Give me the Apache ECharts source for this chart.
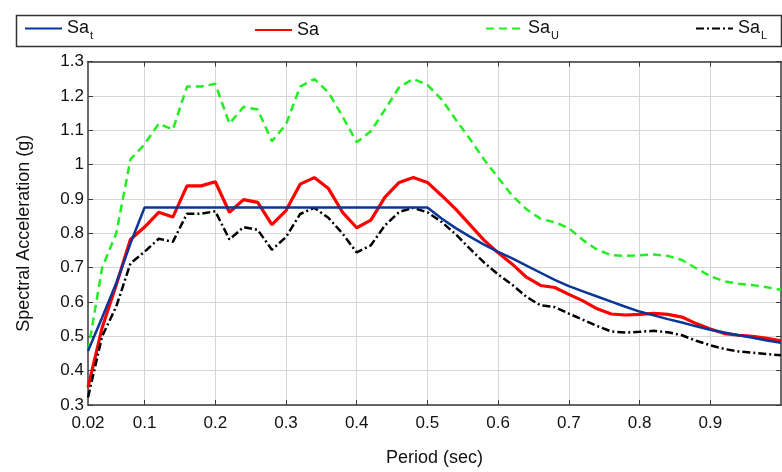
<!DOCTYPE html>
<html><head><meta charset="utf-8">
<script src="https://cdn.jsdelivr.net/npm/echarts@6/dist/echarts.min.js"></script>
<style>html,body{margin:0;padding:0;background:#fff}#c{width:782px;height:472px}</style>
</head><body><div id="c"></div>
<script>
// Periods (sec)
const periods = [0.02,0.04,0.06,0.08,0.10,0.12,0.14,0.16,0.18,0.20,
                 0.22,0.24,0.26,0.28,0.30,0.32,0.34,0.36,0.38,0.40,
                 0.42,0.44,0.46,0.48,0.50,0.52,0.54,0.56,0.58,0.60,
                 0.62,0.64,0.66,0.68,0.70,0.72,0.74,0.76,0.78,0.80,
                 0.82,0.84,0.86,0.88,0.90,0.92,0.94,0.96,0.98,1.00];
// Target spectrum Sa_t
const saTarget = [0.457,0.555,0.655,0.770,0.875,0.875,0.875,0.875,0.875,0.875,
                  0.875,0.875,0.875,0.875,0.875,0.875,0.875,0.875,0.875,0.875,
                  0.875,0.875,0.875,0.875,0.875,0.843,0.815,0.790,0.767,0.746,
                  0.727,0.706,0.685,0.664,0.646,0.631,0.616,0.601,0.586,0.572,
                  0.561,0.550,0.540,0.529,0.519,0.511,0.503,0.496,0.488,0.481];
// Mean spectrum Sa
const saMean = [0.351,0.525,0.650,0.782,0.818,0.861,0.847,0.938,0.938,0.950,
                0.861,0.898,0.890,0.825,0.866,0.943,0.962,0.930,0.861,0.816,
                0.838,0.905,0.948,0.962,0.948,0.910,0.870,0.825,0.780,0.743,
                0.710,0.672,0.648,0.642,0.622,0.603,0.580,0.565,0.562,0.564,
                0.567,0.564,0.556,0.537,0.521,0.508,0.503,0.500,0.494,0.487];
// Upper bound Sa_U
const saUpper = [0.457,0.700,0.800,1.015,1.059,1.119,1.102,1.227,1.227,1.235,
                 1.119,1.168,1.160,1.068,1.117,1.227,1.249,1.210,1.140,1.065,
                 1.097,1.160,1.225,1.249,1.232,1.190,1.131,1.075,1.015,0.962,
                 0.909,0.870,0.842,0.832,0.815,0.780,0.752,0.736,0.734,0.736,
                 0.738,0.734,0.722,0.698,0.675,0.660,0.653,0.649,0.643,0.635];
// Lower bound Sa_L
const saLower = [0.322,0.500,0.587,0.712,0.746,0.784,0.775,0.857,0.857,0.864,
                 0.782,0.818,0.810,0.752,0.789,0.856,0.874,0.845,0.799,0.744,
                 0.765,0.823,0.862,0.874,0.861,0.833,0.797,0.755,0.715,0.680,
                 0.650,0.615,0.590,0.585,0.566,0.548,0.530,0.514,0.511,0.513,
                 0.516,0.512,0.503,0.487,0.474,0.463,0.456,0.452,0.448,0.445];
// Axis ticks / labels
const xTickValues = [0.1,0.2,0.3,0.4,0.5,0.6,0.7,0.8,0.9];
const xLabelValues = [0.02,0.1,0.2,0.3,0.4,0.5,0.6,0.7,0.8,0.9];
const seriesNames = ['Sat','Sa','SaU','SaL'];
const legendLabels = ['{m|Sa}{s|t}','{m|Sa}','{m|Sa}{s|U}','{m|Sa}{s|L}'];

const FONT = 'Liberation Sans, Arial, sans-serif';
const pairs = vals => periods.map((t,i)=>[t, vals[i]]);

const chart = echarts.init(document.getElementById('c'), null, {renderer:'canvas'});
const axisColor = '#3a3a3a';
const gridColor = '#d6d6d6';

const legendCommon = {
  orient:'horizontal', itemWidth:37, itemHeight:14, padding:0,
  itemStyle:{opacity:0},
  lineStyle:{width:2},
  formatter: name => legendLabels[seriesNames.indexOf(name)],
  textStyle:{ fontFamily:FONT, color:'#111',
    rich:{ m:{fontSize:18, fontFamily:FONT, color:'#111', lineHeight:24},
           s:{fontSize:11, fontFamily:FONT, color:'#111', lineHeight:13, padding:[14,0,0,1]} } }
};

chart.setOption({
  animation:false,
  backgroundColor:'#fff',
  textStyle:{fontFamily:FONT},
  graphic:[{type:'rect', shape:{x:16.5, y:15.5, width:765, height:31},
            style:{fill:'none', stroke:'#333', lineWidth:1.5}, silent:true}],
  legend:[
    Object.assign({data:['Sat'], left:24, top:16}, legendCommon),
    Object.assign({data:['Sa'], left:254, top:21}, legendCommon),
    Object.assign({data:['SaU'], left:485, top:16}, legendCommon),
    Object.assign({data:['SaL'], left:695, top:16}, legendCommon)
  ],
  grid:{left:88, right:1, top:61.5, bottom:64.5, containLabel:false},
  xAxis:[{
    type:'value', min:0.02, max:1.0, position:'bottom',
    name:'Period (sec)', nameLocation:'middle', nameGap:44,
    nameTextStyle:{fontSize:18, color:'#111', fontFamily:FONT},
    axisLine:{show:true, lineStyle:{color:axisColor, width:1.5}},
    axisTick:{show:true, inside:true, length:5, customValues:xTickValues, lineStyle:{color:axisColor}},
    axisLabel:{customValues:xLabelValues, fontSize:17, color:'#111', margin:10, fontFamily:FONT,
               formatter: v => String(v)},
    splitLine:{show:true, lineStyle:{color:gridColor, width:1}}
  },{
    type:'value', min:0.02, max:1.0, position:'top',
    axisLine:{show:true, lineStyle:{color:axisColor, width:1.5}},
    axisTick:{show:true, inside:true, length:5, customValues:xTickValues, lineStyle:{color:axisColor}},
    axisLabel:{show:false}, splitLine:{show:false}
  }],
  yAxis:[{
    type:'value', min:0.3, max:1.3, interval:0.1, position:'left',
    name:'Spectral Acceleration (g)', nameLocation:'middle', nameGap:55,
    nameTextStyle:{fontSize:18, color:'#111', fontFamily:FONT},
    axisLine:{show:true, lineStyle:{color:axisColor, width:1.5}},
    axisTick:{show:true, inside:true, length:5, lineStyle:{color:axisColor}},
    axisLabel:{fontSize:17, color:'#111', margin:4, fontFamily:FONT},
    splitLine:{show:true, lineStyle:{color:gridColor, width:1}}
  },{
    type:'value', min:0.3, max:1.3, interval:0.1, position:'right',
    axisLine:{show:true, lineStyle:{color:axisColor, width:1.5}},
    axisTick:{show:true, inside:true, length:5, lineStyle:{color:axisColor}},
    axisLabel:{show:false}, splitLine:{show:false}
  }],
  series:[
    {name:'Sat', type:'line', data:pairs(saTarget), symbol:'none', xAxisIndex:0, yAxisIndex:0,
     lineStyle:{color:'#0a3698', width:2.5}, itemStyle:{color:'#0a3698'}, z:3},
    {name:'Sa', type:'line', data:pairs(saMean), symbol:'none', xAxisIndex:0, yAxisIndex:0,
     lineStyle:{color:'#ff0000', width:3.2}, itemStyle:{color:'#ff0000'}, z:2},
    {name:'SaU', type:'line', data:pairs(saUpper), symbol:'none', xAxisIndex:0, yAxisIndex:0,
     lineStyle:{color:'#22ee22', width:2.5, type:[8,5]}, itemStyle:{color:'#22ee22'}, z:2},
    {name:'SaL', type:'line', data:pairs(saLower), symbol:'none', xAxisIndex:0, yAxisIndex:0,
     lineStyle:{color:'#000000', width:2.5, type:[8,3,2,3]}, itemStyle:{color:'#000000'}, z:2}
  ]
});
</script>
</body></html>
